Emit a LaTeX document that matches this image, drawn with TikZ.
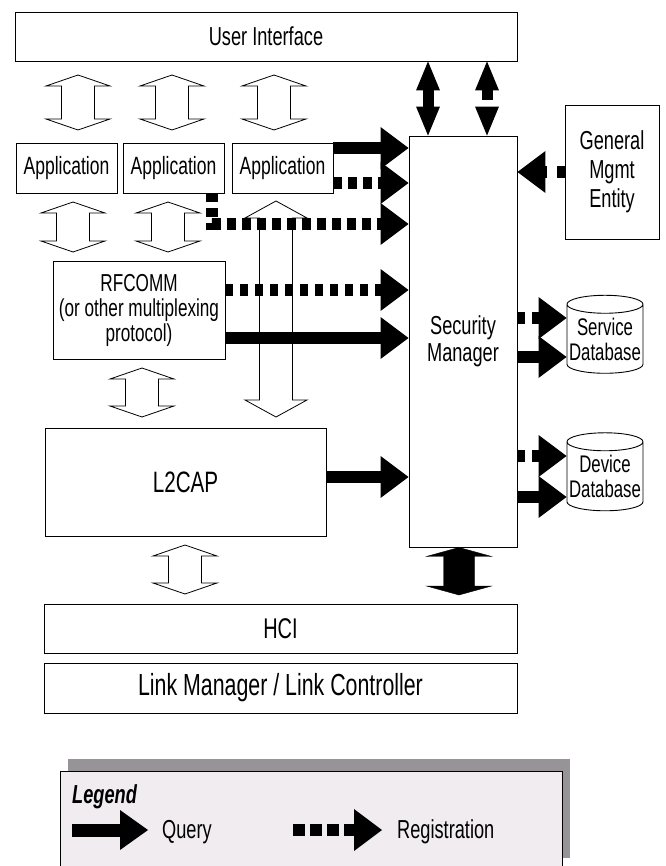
\documentclass[tikz,border=0pt]{standalone}
\usepackage{fontspec}
\setmainfont{Liberation Sans}[FakeStretch=0.7]
\usetikzlibrary{arrows.meta,calc,shapes.geometric,shadows}

\begin{document}
\begin{tikzpicture}[x=1pt,y=-1pt,line join=miter]
	\definecolor{legendfill}{RGB}{240,236,240}
	\definecolor{shadowgray}{RGB}{150,148,150}
	\def\boxfont#1#2{\fontsize{#1}{#2}\selectfont}
	\tikzstyle{block}=[rectangle, draw, line width=0.9pt, inner sep=0pt, align=center]
	\tikzstyle{db}=[cylinder, shape border rotate=90, aspect=0.25, draw, line width=0.9pt, inner sep=0pt, align=center, minimum width=76pt, minimum height=78pt, font=\boxfont{24}{25}]
	\tikzstyle{query}=[line width=12pt, -{Triangle[length=28pt,width=42pt,line width=0pt]}]
	\tikzstyle{regist}=[query, dash pattern=on 9pt off 6pt]
	\tikzstyle{both}=[line width=11pt, {Triangle[length=29pt,width=24pt,line width=0pt]}-{Triangle[length=29pt,width=24pt,line width=0pt]}]
	\tikzset{fat/.style n args={3}{to path={let \p1=(\tikztostart), \p2=(\tikztotarget) in
		(\x1,\y1) -- (\x1+#1,\y1-#3) -- (\x1+#2,\y1-#3) -- (\x1+#2,\y2+#3) -- (\x1+#1,\y2+#3) -- (\x1,\y2)
		-- (\x1-#1,\y2+#3) -- (\x1-#2,\y2+#3) -- (\x1-#2,\y1-#3) -- (\x1-#1,\y1-#3) -- cycle}}}
	\tikzstyle{hollow}=[draw, fill=white, line width=0.8pt, fat={32pt}{16.5pt}{11pt}]
	\useasboundingbox[fill=white] (0,0) rectangle (665,866);

	% Layers of the stack
	\node[block, minimum width=502pt, minimum height=49pt, font=\boxfont{26}{30}] (UI) at (266,36.5) {User Interface};
	\foreach \name/\cx in {1/66.5,2/173.5,3/282.5}
	 \node[block, minimum width=101pt, minimum height=50pt, font=\boxfont{25}{29}] (App\name) at (\cx,168) {Application};
	\node[block, minimum width=172pt, minimum height=98pt, font=\boxfont{24.5}{25}] (RF) at (139,310) {RFCOMM\\(or other multiplexing\\protocol)};
	\node[block, minimum width=281pt, minimum height=108pt, font=\boxfont{29.5}{33}] (L2) at (185.5,482) {L2CAP};
	\node[block, minimum width=473pt, minimum height=49pt, font=\boxfont{28.5}{32}] (HCI) at (280.5,628.5) {HCI};
	\node[block, minimum width=473pt, minimum height=50pt, font=\boxfont{30.5}{34}] (LM) at (280.5,688) {Link Manager / Link Controller};
	% Security side
	\node[block, minimum width=108pt, minimum height=411pt, font=\boxfont{26}{27}] (SM) at (463,341.5) {Security\\Manager};
	\node[block, minimum width=94pt, minimum height=134pt, font=\boxfont{26}{29}] (GME) at (612,172) {General\\Mgmt\\Entity};
	\node[db] (SDB) at (605,339) {Service\\Database};
	\node[db] (DDB) at (605,476.5) {Device\\Database};

	% Data paths between the layers
	\foreach \cx/\ya/\yb in {78/75/130, 172/75/130, 274/75/130, 73/202/252, 168/202/252, 142/368/417, 185/545/594}
	 \draw[hollow] (\cx,\ya) to (\cx,\yb);
	\draw[draw, fill=white, line width=0.8pt, fat={31pt}{16.5pt}{17pt}] (276,201) to (276,417);
	\draw[fill=black, fat={32.5pt}{15.5pt}{9pt}] (SM.south -| 459,0) to (459,595);

	% Query and registration arrows into the Security Manager
	\draw[both] (UI.south -| 428,0) -- (SM.north -| 428,0);
	\draw[both, dash pattern=on 10pt off 10pt] (UI.south -| 487,0) -- (SM.north -| 487,0);
	\draw[query] (App3.east |- 0,148) -- (SM.west |- 0,148);
	\draw[regist] (App3.east |- 0,183) -- (SM.west |- 0,183);
	\draw[regist] ([xshift=-12pt]App2.south east) |- (SM.west |- 0,224);
	\draw[regist, dash pattern=on 8pt off 7pt] (RF.east |- 0,290) -- (SM.west |- 0,290);
	\draw[query] (RF.east |- 0,338) -- (SM.west |- 0,338);
	\draw[query] (L2.east |- 0,477) -- (SM.west |- 0,477);
	\draw[regist, dash pattern=on 8pt off 10pt] (GME.west) -- (SM.east |- GME.west);
	% Security Manager to the databases
	\draw[regist, dash pattern=on 8pt off 7pt] (SM.east |- 0,318) -- (SDB.west |- 0,318);
	\draw[query] (SM.east |- 0,357) -- (SDB.west |- 0,357);
	\draw[regist, dash pattern=on 8pt off 7pt] (SM.east |- 0,456) -- (DDB.west |- 0,456);
	\draw[query] (SM.east |- 0,497) -- (DDB.west |- 0,497);

	% Legend
	\node[block, fill=legendfill, drop shadow={shadow xshift=8pt, shadow yshift=12pt, fill=shadowgray, opacity=1}, minimum width=502pt, minimum height=99pt] (legend) at (311,820.5) {};
	\node[anchor=base west, inner sep=0pt, font=\bfseries\itshape\boxfont{26}{27}] (legtitle) at (72,803) {Legend};
	\coordinate (qa) at (72,830);
	\coordinate (qb) at (148,830);
	\draw[query, line width=13pt, -{Triangle[length=28pt,width=40pt,line width=0pt]}] (qa) -- (qb);
	\node[anchor=base west, inner sep=0pt, font=\boxfont{26}{27}] (qtext) at (162,838) {Query};
	\coordinate (ra) at (293,830);
	\coordinate (rb) at (382,830);
	\draw[regist, dash pattern=on 12pt off 5pt] (ra) -- (rb);
	\node[anchor=base west, inner sep=0pt, font=\boxfont{26}{27}] (rtext) at (397,838) {Registration};
\end{tikzpicture}
\end{document}
